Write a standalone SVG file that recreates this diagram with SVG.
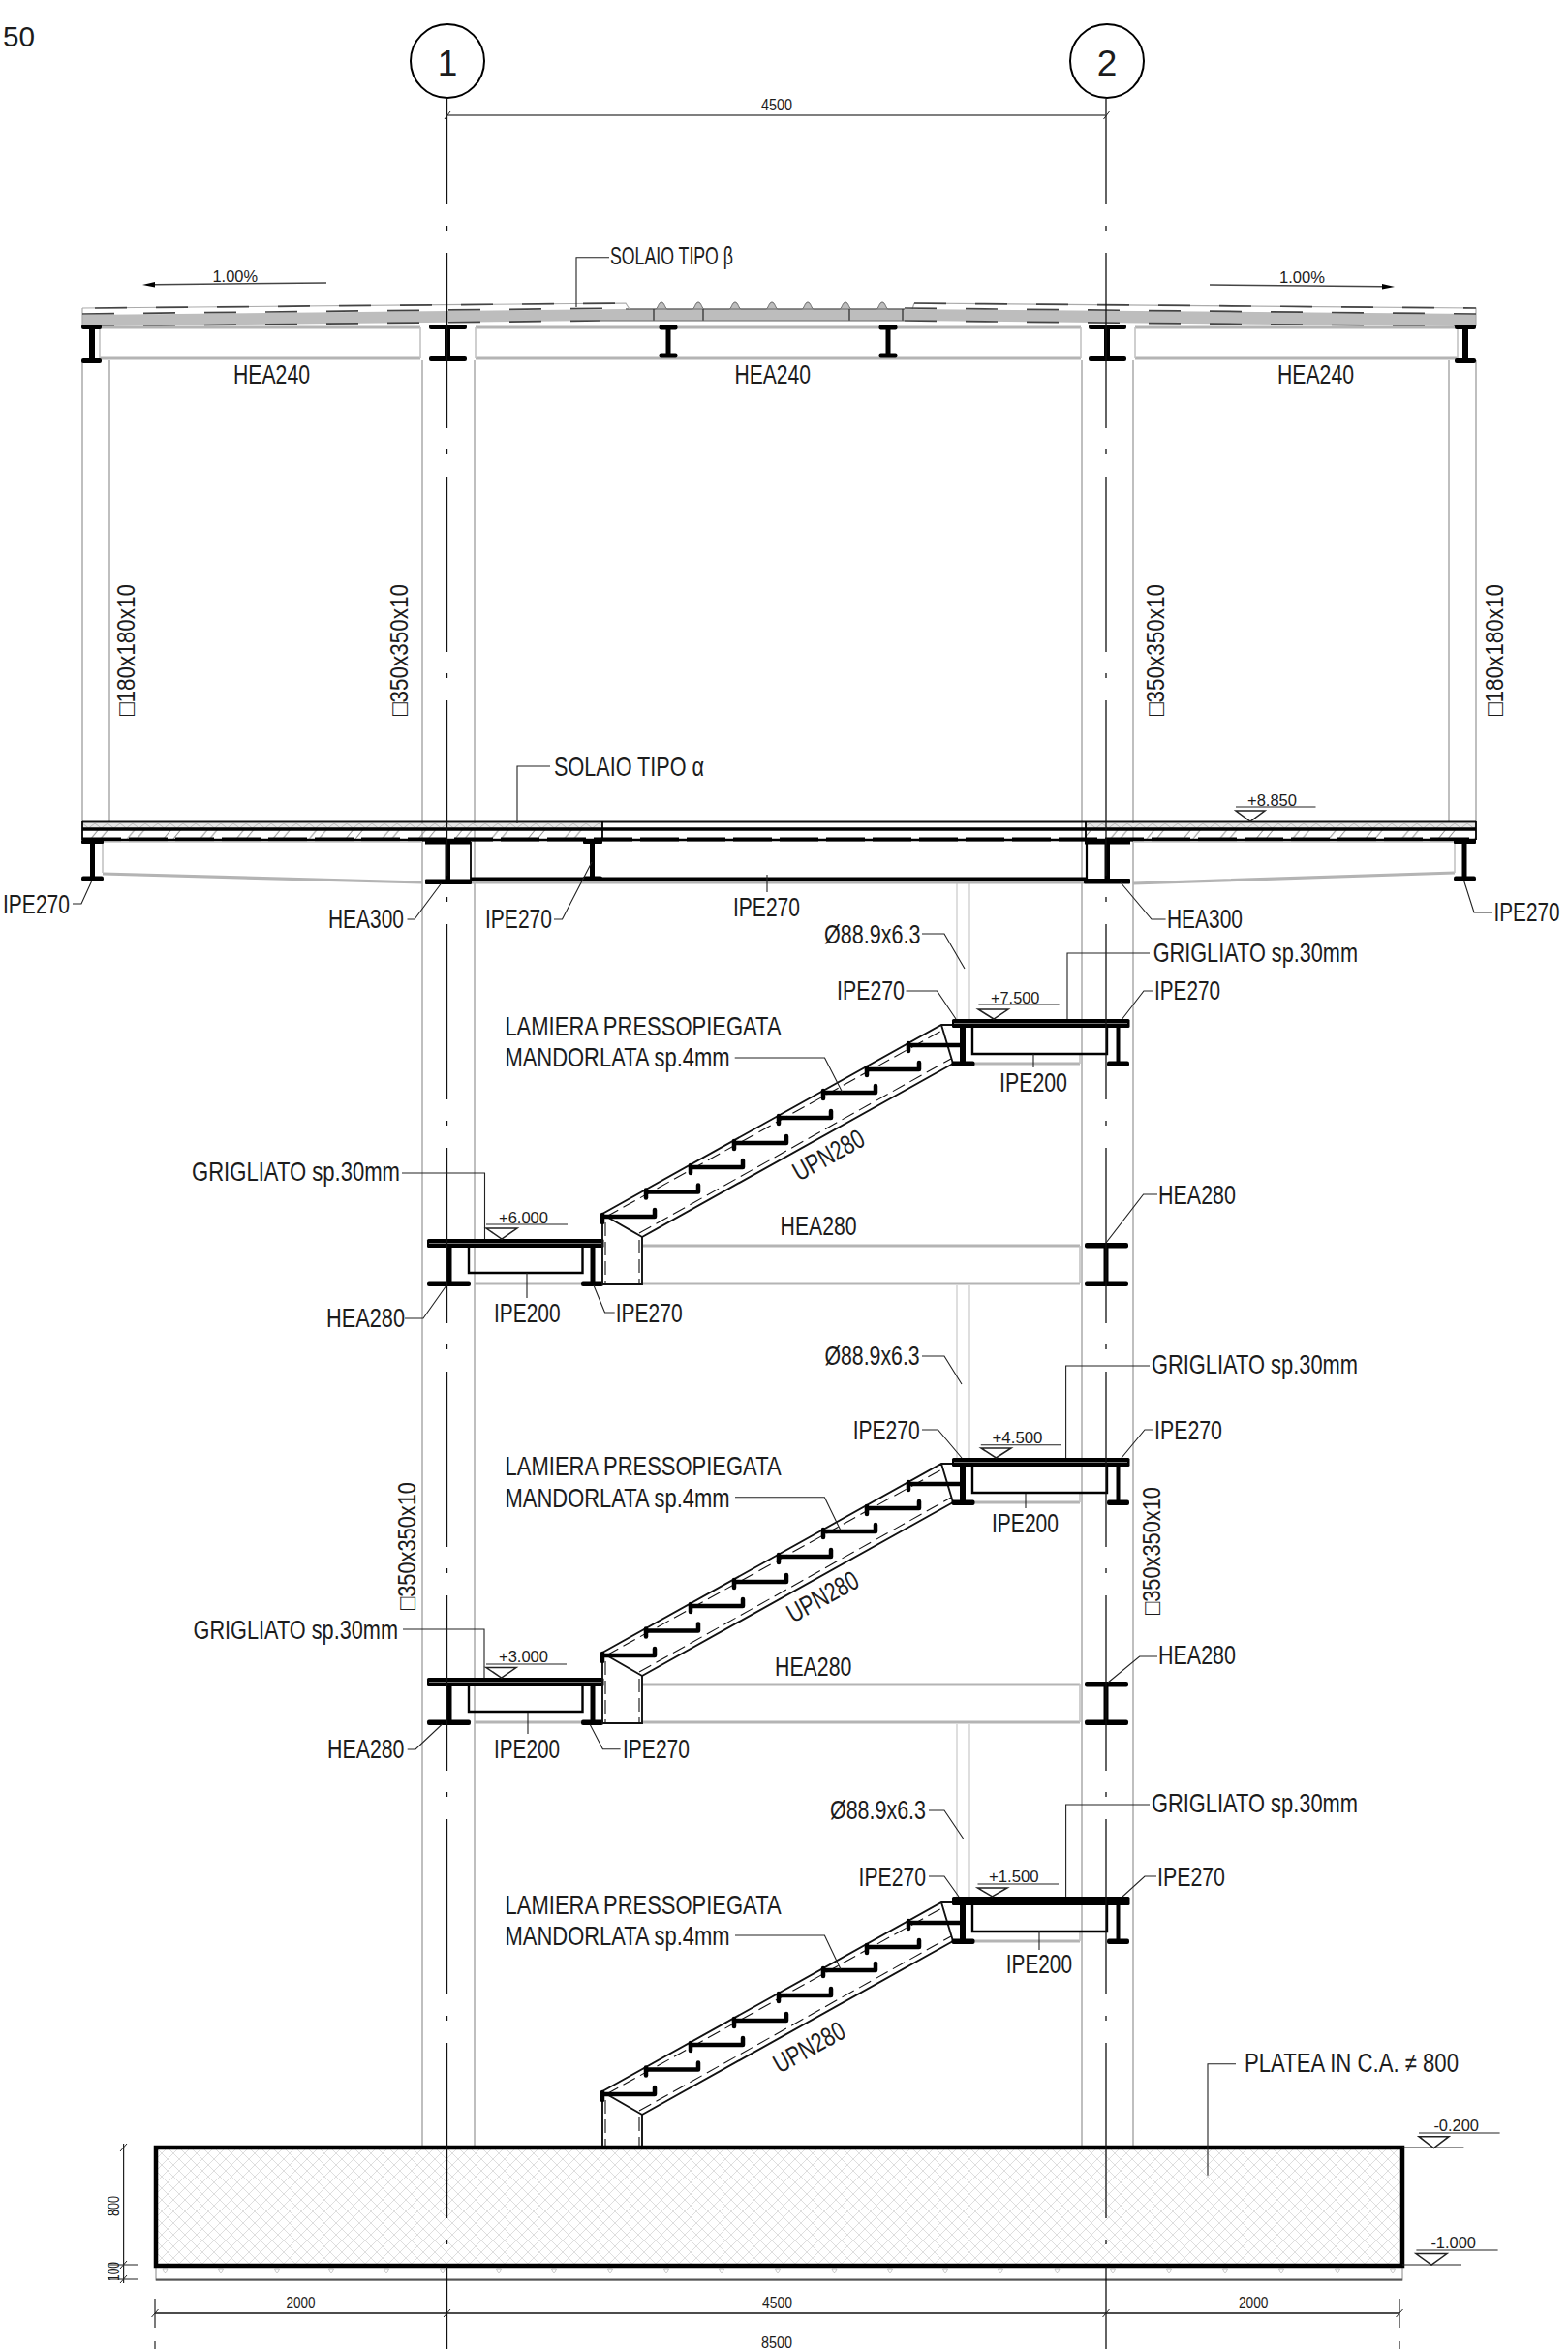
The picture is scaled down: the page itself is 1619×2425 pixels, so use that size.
<svg xmlns="http://www.w3.org/2000/svg" xmlns:xlink="http://www.w3.org/1999/xlink" width="1619" height="2425" viewBox="0 0 1619 2425">
<style>
text{font-family:"Liberation Sans",Arial,sans-serif;fill:#1c1c1c}
.l{font-size:27.5px}
.s{font-size:17px}
.v{font-size:26px}
.ld{fill:none;stroke:#222;stroke-width:1.1}
.tri{fill:#fff;stroke:#222;stroke-width:1.5}
.col{fill:none;stroke:#aaa;stroke-width:1.5}
.pipe{fill:none;stroke:#d0d0d0;stroke-width:1.4}
.gb{fill:none;stroke:#b4b4b4;stroke-width:3.2}
.gt{fill:none;stroke:#c4c4c4;stroke-width:1.6}
.k{fill:#000}
.blk{fill:none;stroke:#000;stroke-width:2.4}
.thin{fill:none;stroke:#111;stroke-width:1.9}
.dsh{fill:none;stroke:#111;stroke-width:1.1;stroke-dasharray:14 6}
.rd{fill:none;stroke:#444;stroke-width:1.7;stroke-dasharray:33 30}
.axis{fill:none;stroke:#111;stroke-width:1.3;stroke-dasharray:181 22 5 23}
.dim{fill:none;stroke:#222;stroke-width:1.2}
.tk{fill:none;stroke:#222;stroke-width:1}
</style>
<defs>
<pattern id="hatch" patternUnits="userSpaceOnUse" x="85" y="856" width="37.6" height="11">
<path d="M8 11L17 0M18 11L27 0" stroke="#8c8c8c" stroke-width="1" fill="none"/>
</pattern>
<pattern id="vee" patternUnits="userSpaceOnUse" x="85" y="850" width="13" height="5">
<path d="M0 0L6.5 5L13 0" stroke="#b0b0b0" stroke-width="0.8" fill="none"/>
</pattern>
<pattern id="rc" patternUnits="userSpaceOnUse" x="161" y="2217" width="12" height="12">
<path d="M0 0L12 12M12 0L0 12" stroke="#d6d6d6" stroke-width="0.8" fill="none"/>
</pattern>
<g id="stepbar">
<path d="M0 0H54V-7" fill="none" stroke="#000" stroke-width="4.500" stroke-linecap="round" stroke-linejoin="round"/>
<path d="M0 -2V6" fill="none" stroke="#000" stroke-width="4.500" stroke-linecap="round"/>
</g>
<g id="flight">
<path class="thin" d="M622 1253L972 1058H990M663 1277L984 1098M972 1058L984 1098M622 1253V1326H663V1277M623 1254L663 1277"/>
<path class="dsh" d="M626 1256L976 1062M660 1273L982 1093M625 1262V1326M660 1280V1326"/>
<use xlink:href="#stepbar" href="#stepbar" x="622" y="1256"/>
<use xlink:href="#stepbar" href="#stepbar" x="667" y="1230.5"/>
<use xlink:href="#stepbar" href="#stepbar" x="713" y="1205"/>
<use xlink:href="#stepbar" href="#stepbar" x="758" y="1180"/>
<use xlink:href="#stepbar" href="#stepbar" x="804" y="1154"/>
<use xlink:href="#stepbar" href="#stepbar" x="850" y="1128"/>
<use xlink:href="#stepbar" href="#stepbar" x="895" y="1104"/>
<path d="M938 1079H994M938 1077V1085" fill="none" stroke="#000" stroke-width="4.500" stroke-linecap="round"/>
</g>
<g id="upperLanding">
<path class="gb" d="M1006 1098H1115"/><path class="gt" d="M1115 1088V1098"/>
<path class="blk" d="M1004 1061V1088H1143V1061"/>
<rect class="k" x="991" y="1061" width="6" height="37"/>
<rect class="k" x="982.500" y="1095.500" width="24" height="5.500" rx="2"/>
<rect class="k" x="1152.500" y="1061" width="4" height="37"/>
<rect class="k" x="1143" y="1095.500" width="23" height="5.500" rx="2"/>
<rect class="k" x="983" y="1052" width="183.500" height="9" rx="1.500"/>
<path d="M985 1056.500H1164" stroke="#777" stroke-width="1"/>
</g>
<g id="lowerLanding">
<path class="gb" d="M490 1325H600M663 1325H1115M663 1286H1115"/><path class="gt" d="M1115 1286V1325"/>
<path class="blk" d="M484 1288V1314H601.500V1288"/>
<rect class="k" x="461.500" y="1288" width="5" height="36"/>
<rect class="k" x="441" y="1322.500" width="45" height="5.500" rx="2"/>
<rect class="k" x="609.500" y="1288" width="5" height="36"/>
<rect class="k" x="600" y="1322.500" width="23" height="5.500" rx="2"/>
<rect class="k" x="441" y="1279" width="182.500" height="9" rx="1.500"/>
<path d="M443 1283.500H621" stroke="#777" stroke-width="1"/>
<rect class="k" x="1139.500" y="1286" width="5" height="39"/>
<rect class="k" x="1120" y="1283" width="45" height="5.500" rx="2"/>
<rect class="k" x="1120" y="1322.500" width="45" height="5.500" rx="2"/>
</g>
</defs>
<rect width="1619" height="2425" fill="#fff"/>

<g id="columns">
<path class="col" d="M85 372V848M113 372V848M1496 372V848M1524 372V848"/>
<path class="col" d="M436 372V2217M490 372V2217M1117 372V2217M1170 372V2217"/>
<path class="pipe" d="M988 912V1052M1001 912V1052M988 1327V1505M1001 1327V1505M988 1780V1958M1001 1780V1958"/>
</g>

<g id="roof-slab">
<path d="M85 325L646 319H934L1524 324V337L934 331H620L85 337Z" fill="#bdbdbd"/>
<path d="M646 319H677C679 319 680 312 683 312C686 312 687 319 689 319H715C717 319 718 312 721 312C724 312 725 319 727 319H753C755 319 756 312 759 312C762 312 763 319 765 319H791C793 319 794 312 797 312C800 312 801 319 803 319H828C830 319 831 312 834 312C837 312 838 319 840 319H867C869 319 870 312 873 312C876 312 877 319 879 319H905C907 319 908 312 911 312C914 312 915 319 917 319H934Z" fill="#bdbdbd" stroke="#666" stroke-width="1"/>
<path d="M85 318L646 313L650 319M944 313L942 319M944 313L1524 318V337M85 318V337" fill="none" stroke="#aaa" stroke-width="1.2"/>
<path class="rd" d="M98 318L646 313M85 324L646 318M85 337L620 331M944 313L1524 318M934 318L1524 324M934 331L1524 337"/>
<path d="M675 319V331M877 319V331M726 319V331M932 319V331" fill="none" stroke="#333" stroke-width="1.3"/>
<path d="M620 331H934" stroke="#666" stroke-width="1"/>
</g>

<g id="roof-beams">
<path class="gb" d="M103 338H434M103 370H434M491 338H1116M491 370H1116M1172 338H1505M1172 370H1505"/>
<path class="gt" d="M103 338V372M434 338V370M491 338V370M1116 338V370M1172 338V370M1505 338V372"/>
<rect class="k" x="92" y="337" width="6" height="35"/><rect class="k" x="84" y="335" width="21" height="5" rx="2"/><rect class="k" x="84" y="370" width="21" height="5" rx="2"/>
<rect class="k" x="459" y="337" width="6" height="33"/><rect class="k" x="443" y="335" width="39" height="5" rx="2"/><rect class="k" x="443" y="368" width="39" height="5" rx="2"/>
<rect class="k" x="687.500" y="338" width="5" height="29"/><rect class="k" x="680.500" y="335.500" width="19" height="5" rx="2"/><rect class="k" x="680.500" y="364.500" width="19" height="5" rx="2"/>
<rect class="k" x="914.500" y="338" width="5" height="29"/><rect class="k" x="907.500" y="335.500" width="19" height="5" rx="2"/><rect class="k" x="907.500" y="364.500" width="19" height="5" rx="2"/>
<rect class="k" x="1140" y="337" width="6" height="33"/><rect class="k" x="1124" y="335" width="39" height="5" rx="2"/><rect class="k" x="1124" y="368" width="39" height="5" rx="2"/>
<rect class="k" x="1510" y="337" width="6" height="35"/><rect class="k" x="1502" y="335" width="22" height="5" rx="2"/><rect class="k" x="1502" y="370" width="22" height="5" rx="2"/>
</g>

<g id="floor-slab">
<rect x="85" y="850" width="537" height="5" fill="#e6e6e6"/><rect x="85" y="850" width="537" height="5" fill="url(#vee)"/>
<rect x="1121" y="850" width="403" height="5" fill="#e6e6e6"/><rect x="1121" y="850" width="403" height="5" fill="url(#vee)"/>
<rect x="85" y="857" width="537" height="10" fill="url(#hatch)"/>
<rect x="1121" y="857" width="403" height="10" fill="url(#hatch)"/>
<path d="M85 848.500H1524" stroke="#111" stroke-width="1.800"/>
<path d="M85 856H1524" stroke="#000" stroke-width="3.600"/>
<path d="M85 867H1524" stroke="#000" stroke-width="2.400"/>
<path d="M85 866.500H1524" stroke="#000" stroke-width="4" stroke-dasharray="40 8"/>
<path d="M85 848V867M622 848V867M1121 848V867M1524 848V867" stroke="#000" stroke-width="1.800"/>
</g>

<g id="floor-beams">
<path class="gb" d="M106 902L436 911M1170 912L1502 901M486 911H1119"/>
<path class="gt" d="M106 869H436M1170 869H1502M106 869V901M1502 869V901"/>
<rect class="k" x="93" y="868" width="5" height="39"/><rect class="k" x="84" y="867" width="23" height="4" rx="1"/><rect class="k" x="84" y="904.500" width="23" height="5" rx="2"/>
<rect class="k" x="439" y="867" width="47" height="4.500"/>
<rect class="k" x="459.500" y="869" width="5.500" height="40"/>
<rect class="k" x="439" y="907.500" width="48" height="5.500" rx="1"/>
<path d="M486 869V908" stroke="#000" stroke-width="1.800"/>
<rect class="k" x="609" y="868" width="5" height="39"/><rect class="k" x="602" y="867" width="20" height="4" rx="1"/><rect class="k" x="602" y="904.500" width="20" height="5" rx="2"/>
<path d="M486 907.500H1122" stroke="#000" stroke-width="4"/>
<rect class="k" x="1120" y="867" width="47" height="4.500"/>
<rect class="k" x="1140.500" y="869" width="5.500" height="40"/>
<rect class="k" x="1119" y="907" width="48" height="5.500" rx="1"/>
<path d="M1122 869V908" stroke="#000" stroke-width="2.200"/>
<rect class="k" x="1509.500" y="868" width="5" height="39"/><rect class="k" x="1501" y="867" width="23" height="4" rx="1"/><rect class="k" x="1501" y="904.500" width="23" height="5" rx="2"/>
</g>

<g id="stair-1"><use xlink:href="#lowerLanding" href="#lowerLanding"/><use xlink:href="#flight" href="#flight"/><use xlink:href="#upperLanding" href="#upperLanding"/></g>
<g id="stair-2" transform="translate(0 453)"><use xlink:href="#lowerLanding" href="#lowerLanding"/><use xlink:href="#flight" href="#flight"/><use xlink:href="#upperLanding" href="#upperLanding"/></g>
<g id="stair-3" transform="translate(0 906)"><use xlink:href="#flight" href="#flight"/><use xlink:href="#upperLanding" href="#upperLanding"/></g>

<g id="foundation">
<rect x="161" y="2339" width="1287" height="15" fill="#fff" stroke="#888" stroke-width="1"/>
<path d="M161 2353.500H1448" stroke="#555" stroke-width="1.800"/>
<path d="M168 2342h5l-2.500 5zM225.500 2342h5l-2.500 5zM283.500 2342h5l-2.500 5zM339.500 2342h5l-2.500 5zM396.500 2342h5l-2.500 5zM454.500 2342h5l-2.500 5zM512.500 2342h5l-2.500 5zM569.500 2342h5l-2.500 5zM627.500 2342h5l-2.500 5zM685.500 2342h5l-2.500 5zM742.500 2342h5l-2.500 5zM800.500 2342h5l-2.500 5zM859 2342h5l-2.500 5zM916.500 2342h5l-2.500 5zM973.500 2342h5l-2.500 5zM1030.500 2342h5l-2.500 5zM1089 2342h5l-2.500 5zM1146.500 2342h5l-2.500 5zM1204.500 2342h5l-2.500 5zM1262.500 2342h5l-2.500 5zM1320.500 2342h5l-2.500 5zM1378.500 2342h5l-2.500 5zM1435.500 2342h5l-2.500 5z" fill="#fff" stroke="#bbb" stroke-width="0.800"/>
<rect x="161" y="2217" width="1287" height="122" fill="#fff"/>
<rect x="161" y="2217" width="1287" height="122" fill="url(#rc)"/>
<rect x="161" y="2217" width="1287" height="122" fill="none" stroke="#000" stroke-width="4.500"/>
</g>

<g id="connectors">
<path class="axis" stroke-dashoffset="72" d="M461.500 102V2425"/>
<path class="axis" stroke-dashoffset="72" d="M1142 102V2425"/>
<path d="M461.500 119H1142" stroke="#555" stroke-width="1.600"/>
<path class="tk" d="M459 123L465 115M1139.500 123L1145.500 115"/>
<path d="M337 292L160 293.700" stroke="#444" stroke-width="1.500"/><path d="M147 294L160 291V296.500Z" fill="#000"/>
<path d="M1249 294L1427 295.800" stroke="#444" stroke-width="1.500"/><path d="M1440 296L1427 293V298.500Z" fill="#000"/>
<path class="ld" d="M629 265.700H595V317"/>
<path class="ld" d="M568 791H534V850"/>
<path class="ld" d="M75 933H84L94.500 910M420.500 949H428L455.500 912M572 949H580.500L611 890M792 903V921M1157 911L1189 949H1203.600M1511.500 909L1522 942H1541"/>
<path class="ld" d="M952 964H975L996 1000M1187 984H1102V1052M935.500 1023H967.500L987 1052M1190.700 1023H1181L1158.700 1052M758.700 1092H851.500L869.400 1127M1067 1088V1102"/>
<path class="ld" d="M415 1211H500.500V1279M1142 1283L1180.600 1233H1195M418 1361H437L461 1327M544 1314V1340M613 1327L624.500 1355H634.700"/>
<path class="ld" d="M952 1400H975L993 1429M1187 1410H1100.600V1505M952 1476H968.500L993 1505M1191 1476H1182L1158 1505M759 1545.700H851.400L868 1580M1059 1542V1557"/>
<path class="ld" d="M416 1682H500V1732M1144 1737L1176.700 1710H1195M420.700 1806H429L456.500 1780M545 1768V1790M609.400 1780.700L622.400 1805.700H640.600"/>
<path class="ld" d="M959 1869H975L994.600 1898M1187 1863H1100.600V1958M959 1937H975L990 1958M1194 1937H1182L1159 1958M759 1998H851.400L868 2033M1073 1993V2013"/>
<path class="ld" d="M1276 2130.700H1247V2245.700"/>
<path class="ld" d="M1276 833H1358.500M1010.400 1037H1093.600M502 1264H586M1012.800 1491.700H1096M502 1718H585M1009.500 1945H1093M1465 2202H1548.600M1448 2217H1511.400M1462.400 2323H1546.600M1448 2338H1509"/>
<path class="tri" d="M1276 837H1306L1291 848ZM1010 1042H1041L1026 1052ZM502 1268H534L518 1279ZM1013 1495H1044L1028.400 1505ZM502 1721.500H533L517.700 1732ZM1009.500 1949H1040L1024.500 1958ZM1465 2205.700H1496L1480.400 2217.500ZM1462 2326.500H1494L1478 2338Z"/>
<path class="dim" d="M127.600 2213V2357M112 2217.500H142M112 2338H142M112 2353H142"/>
<path class="tk" d="M124 2221L131 2213M124 2342L131 2334M124 2357L131 2349"/>
<path d="M160 2388H1445" stroke="#111" stroke-width="1.300"/>
<path class="dim" stroke-dasharray="30 14" d="M160 2373V2425M1445 2373V2425"/>
<path class="tk" d="M156.500 2392L163.500 2384M458 2392L465 2384M1138.500 2392L1145.500 2384M1441.500 2392L1448.500 2384"/>
</g>

<g id="grid-1"><circle cx="462" cy="63" r="38" fill="#fff" stroke="#000" stroke-width="2"/><text x="462" y="78" font-size="37" text-anchor="middle">1</text></g>
<g id="grid-2"><circle cx="1143" cy="63" r="38" fill="#fff" stroke="#000" stroke-width="2"/><text x="1143" y="78" font-size="37" text-anchor="middle">2</text></g>

<g id="labels">
<text x="3" y="48" font-size="30" textLength="33" lengthAdjust="spacingAndGlyphs">50</text>
<text class="s" x="786" y="114" textLength="32" lengthAdjust="spacingAndGlyphs">4500</text>
<text class="s" x="219.500" y="291" textLength="46.500" lengthAdjust="spacingAndGlyphs">1.00%</text>
<text class="s" x="1321" y="292" textLength="47" lengthAdjust="spacingAndGlyphs">1.00%</text>
<text x="630" y="273" font-size="25" textLength="127" lengthAdjust="spacingAndGlyphs">SOLAIO TIPO β</text>
<text class="l" x="241" y="396" textLength="79" lengthAdjust="spacingAndGlyphs">HEA240</text>
<text class="l" x="758.500" y="396" textLength="78.500" lengthAdjust="spacingAndGlyphs">HEA240</text>
<text class="l" x="1319" y="396" textLength="79" lengthAdjust="spacingAndGlyphs">HEA240</text>
<text class="v" transform="translate(139 739) rotate(-90)" textLength="136" lengthAdjust="spacingAndGlyphs">□180x180x10</text>
<text class="v" transform="translate(420.500 739) rotate(-90)" textLength="136" lengthAdjust="spacingAndGlyphs">□350x350x10</text>
<text class="v" transform="translate(1202 739) rotate(-90)" textLength="136" lengthAdjust="spacingAndGlyphs">□350x350x10</text>
<text class="v" transform="translate(1551.500 739) rotate(-90)" textLength="136" lengthAdjust="spacingAndGlyphs">□180x180x10</text>
<text class="l" x="572" y="801" textLength="155" lengthAdjust="spacingAndGlyphs">SOLAIO TIPO α</text>
<text class="s" x="1288" y="832" textLength="51" lengthAdjust="spacingAndGlyphs">+8.850</text>
<text class="l" x="3" y="943" textLength="69" lengthAdjust="spacingAndGlyphs">IPE270</text>
<text class="l" x="339" y="958" textLength="78" lengthAdjust="spacingAndGlyphs">HEA300</text>
<text class="l" x="501" y="958" textLength="69" lengthAdjust="spacingAndGlyphs">IPE270</text>
<text class="l" x="757" y="946" textLength="69" lengthAdjust="spacingAndGlyphs">IPE270</text>
<text class="l" x="1205" y="958" textLength="78" lengthAdjust="spacingAndGlyphs">HEA300</text>
<text class="l" x="1542.500" y="951" textLength="68" lengthAdjust="spacingAndGlyphs">IPE270</text>

<text class="l" x="851" y="974" textLength="99.500" lengthAdjust="spacingAndGlyphs">Ø88.9x6.3</text>
<text class="l" x="1190.700" y="993" textLength="211.300" lengthAdjust="spacingAndGlyphs">GRIGLIATO sp.30mm</text>
<text class="l" x="864" y="1032" textLength="70" lengthAdjust="spacingAndGlyphs">IPE270</text>
<text class="l" x="1192" y="1032" textLength="68" lengthAdjust="spacingAndGlyphs">IPE270</text>
<text class="s" x="1023" y="1036" textLength="50.400" lengthAdjust="spacingAndGlyphs">+7.500</text>
<text class="l" x="521.400" y="1069" textLength="285.200" lengthAdjust="spacingAndGlyphs">LAMIERA PRESSOPIEGATA</text>
<text class="l" x="521.400" y="1101" textLength="232.200" lengthAdjust="spacingAndGlyphs">MANDORLATA sp.4mm</text>
<text class="l" x="1032" y="1127" textLength="70" lengthAdjust="spacingAndGlyphs">IPE200</text>
<text class="l" transform="translate(825 1220) rotate(-29)" textLength="80" lengthAdjust="spacingAndGlyphs">UPN280</text>
<text class="l" x="198" y="1219" textLength="215" lengthAdjust="spacingAndGlyphs">GRIGLIATO sp.30mm</text>
<text class="s" x="515" y="1263" textLength="51" lengthAdjust="spacingAndGlyphs">+6.000</text>
<text class="l" x="805.600" y="1275" textLength="79" lengthAdjust="spacingAndGlyphs">HEA280</text>
<text class="l" x="1196" y="1243" textLength="80" lengthAdjust="spacingAndGlyphs">HEA280</text>
<text class="l" x="337" y="1370" textLength="81" lengthAdjust="spacingAndGlyphs">HEA280</text>
<text class="l" x="510" y="1365" textLength="68.600" lengthAdjust="spacingAndGlyphs">IPE200</text>
<text class="l" x="635.700" y="1365" textLength="68.900" lengthAdjust="spacingAndGlyphs">IPE270</text>

<text class="l" x="851.400" y="1409" textLength="98.300" lengthAdjust="spacingAndGlyphs">Ø88.9x6.3</text>
<text class="l" x="1189" y="1418" textLength="213" lengthAdjust="spacingAndGlyphs">GRIGLIATO sp.30mm</text>
<text class="l" x="880.700" y="1486" textLength="69" lengthAdjust="spacingAndGlyphs">IPE270</text>
<text class="l" x="1192" y="1486" textLength="70" lengthAdjust="spacingAndGlyphs">IPE270</text>
<text class="s" x="1024.500" y="1490" textLength="52" lengthAdjust="spacingAndGlyphs">+4.500</text>
<text class="l" x="521.600" y="1523" textLength="285" lengthAdjust="spacingAndGlyphs">LAMIERA PRESSOPIEGATA</text>
<text class="l" x="521.600" y="1555.700" textLength="232" lengthAdjust="spacingAndGlyphs">MANDORLATA sp.4mm</text>
<text class="l" x="1024" y="1582" textLength="69" lengthAdjust="spacingAndGlyphs">IPE200</text>
<text class="l" transform="translate(819 1676) rotate(-29)" textLength="80" lengthAdjust="spacingAndGlyphs">UPN280</text>
<text class="v" transform="translate(429 1662) rotate(-90)" textLength="132" lengthAdjust="spacingAndGlyphs">□350x350x10</text>
<text class="v" transform="translate(1198 1667) rotate(-90)" textLength="132" lengthAdjust="spacingAndGlyphs">□350x350x10</text>
<text class="l" x="199.500" y="1692" textLength="211.500" lengthAdjust="spacingAndGlyphs">GRIGLIATO sp.30mm</text>
<text class="s" x="515" y="1716" textLength="51" lengthAdjust="spacingAndGlyphs">+3.000</text>
<text class="l" x="800" y="1730" textLength="79.400" lengthAdjust="spacingAndGlyphs">HEA280</text>
<text class="l" x="1196" y="1718" textLength="80" lengthAdjust="spacingAndGlyphs">HEA280</text>
<text class="l" x="338" y="1815" textLength="79.500" lengthAdjust="spacingAndGlyphs">HEA280</text>
<text class="l" x="510" y="1815" textLength="68" lengthAdjust="spacingAndGlyphs">IPE200</text>
<text class="l" x="643" y="1815" textLength="69" lengthAdjust="spacingAndGlyphs">IPE270</text>

<text class="l" x="857" y="1878" textLength="99" lengthAdjust="spacingAndGlyphs">Ø88.9x6.3</text>
<text class="l" x="1189" y="1871" textLength="213" lengthAdjust="spacingAndGlyphs">GRIGLIATO sp.30mm</text>
<text class="l" x="886.600" y="1947" textLength="69.400" lengthAdjust="spacingAndGlyphs">IPE270</text>
<text class="l" x="1195" y="1947" textLength="70" lengthAdjust="spacingAndGlyphs">IPE270</text>
<text class="s" x="1021" y="1942.700" textLength="51.600" lengthAdjust="spacingAndGlyphs">+1.500</text>
<text class="l" x="521.600" y="1976" textLength="285" lengthAdjust="spacingAndGlyphs">LAMIERA PRESSOPIEGATA</text>
<text class="l" x="521.600" y="2008" textLength="232" lengthAdjust="spacingAndGlyphs">MANDORLATA sp.4mm</text>
<text class="l" x="1038.800" y="2037" textLength="68.200" lengthAdjust="spacingAndGlyphs">IPE200</text>
<text class="l" transform="translate(805 2141) rotate(-29)" textLength="80" lengthAdjust="spacingAndGlyphs">UPN280</text>
<text class="l" x="1285" y="2139" textLength="221" lengthAdjust="spacingAndGlyphs">PLATEA IN C.A. ≠ 800</text>
<text class="s" x="1480.400" y="2200" textLength="46.600" lengthAdjust="spacingAndGlyphs">-0.200</text>
<text class="s" x="1477.400" y="2320.700" textLength="46.600" lengthAdjust="spacingAndGlyphs">-1.000</text>
<text class="s" transform="translate(123 2288) rotate(-90)" textLength="21" lengthAdjust="spacingAndGlyphs">800</text>
<text class="s" transform="translate(123 2355) rotate(-90)" textLength="20" lengthAdjust="spacingAndGlyphs">100</text>
<text class="s" x="295.500" y="2383" textLength="30" lengthAdjust="spacingAndGlyphs">2000</text>
<text class="s" x="787" y="2383" textLength="31" lengthAdjust="spacingAndGlyphs">4500</text>
<text class="s" x="1279" y="2383" textLength="30.500" lengthAdjust="spacingAndGlyphs">2000</text>
<text class="s" x="786" y="2424" textLength="32" lengthAdjust="spacingAndGlyphs">8500</text>
</g>
</svg>
